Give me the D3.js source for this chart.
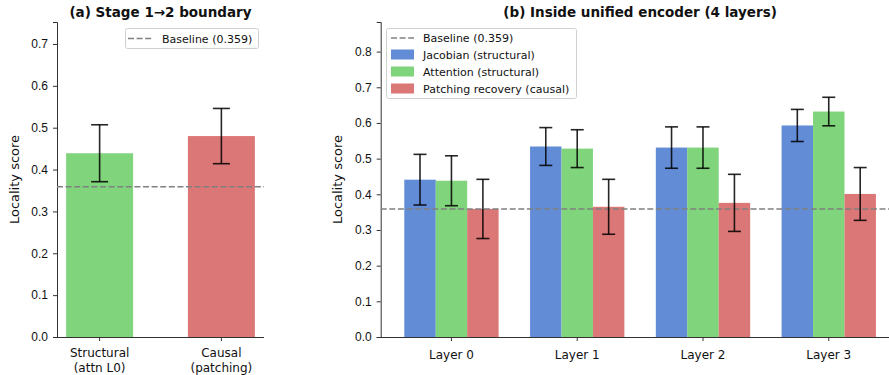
<!DOCTYPE html>
<html lang="en">
<head>
<meta charset="utf-8">
<script src="https://d3js.org/d3.v7.min.js"></script>
<style>
  body { margin: 0; background: #fff; }
  svg { font-family: "DejaVu Sans", sans-serif; }
</style>
</head>
<body>
<script>
// ---- data ----
var baseline = 0.359;

var leftCats = ["Structural\n(attn L0)", "Causal\n(patching)"];
var leftVals = [0.439, 0.480];
var leftErrs = [0.068, 0.066];

var layers = ["Layer 0", "Layer 1", "Layer 2", "Layer 3"];
var seriesNames = ["Jacobian (structural)", "Attention (structural)", "Patching recovery (causal)"];
var jacobianVals = [0.441, 0.534, 0.531, 0.593];
var jacobianErrs = [0.071, 0.053, 0.058, 0.045];
var attentionVals = [0.438, 0.528, 0.531, 0.632];
var attentionErrs = [0.070, 0.053, 0.058, 0.040];
var patchingVals = [0.359, 0.365, 0.376, 0.401];
var patchingErrs = [0.083, 0.077, 0.080, 0.074];

var yTicksA = [0, 0.1, 0.2, 0.3, 0.4, 0.5, 0.6, 0.7];
var yTicksB = [0, 0.1, 0.2, 0.3, 0.4, 0.5, 0.6, 0.7, 0.8];

var blue = "#4878d0", green = "#6acc64", red = "#d65f5f";

var svg = d3.select("body").append("svg")
    .attr("width", 889).attr("height", 375);

var bottom = 337;
var tickFont = 12;
var legFont = 11;

// draws y axis and y label
function frame(x, y, top, ticks, labelX) {
    var g = svg.append("g");
    g.append("g")
        .attr("transform", "translate(" + x.range()[0] + ",0)")
        .call(d3.axisLeft(y).tickValues(ticks).tickFormat(d3.format(".1f")).tickSizeOuter(0).tickSize(4).tickPadding(5))
        .call(function(a) {
            a.select(".domain").attr("stroke", "#333").attr("stroke-width", 1);
            a.selectAll(".tick line").attr("stroke", "#333");
            a.selectAll("text").attr("font-size", tickFont).attr("fill", "#111");
        });
    g.append("text")
        .attr("transform", "translate(" + labelX + "," + (top + bottom) / 2 + ") rotate(-90)")
        .attr("text-anchor", "middle")
        .attr("font-size", 13)
        .attr("fill", "#111")
        .text("Locality score");
    return g;
}

function errBar(g, cx, v, e, cap) {
    g.append("line").attr("x1", cx).attr("x2", cx)
        .attr("y1", v.y(v.val + e)).attr("y2", v.y(v.val - e))
        .attr("stroke", "#000").attr("stroke-opacity", 0.85).attr("stroke-width", 1.6);
    [v.val + e, v.val - e].forEach(function(t) {
        g.append("line").attr("x1", cx - cap).attr("x2", cx + cap)
            .attr("y1", v.y(t)).attr("y2", v.y(t))
            .attr("stroke", "#000").attr("stroke-opacity", 0.85).attr("stroke-width", 1.6);
    });
}

// ---------- panel (a) ----------
var xa = d3.scaleLinear().domain([-0.35, 1.35]).range([57, 264]);
var ya = d3.scaleLinear().domain([0, 0.7525]).range([bottom, 22]);
var ga = frame(xa, ya, 22, yTicksA, 19);
var barW = 0.55;
leftVals.forEach(function(v, i) {
    ga.append("rect")
        .attr("x", xa(i - barW / 2)).attr("width", xa(barW) - xa(0))
        .attr("y", ya(v)).attr("height", ya(0) - ya(v))
        .attr("fill", i == 0 ? green : red).attr("fill-opacity", 0.85);
});
ga.append("line").attr("x1", xa.range()[0]).attr("x2", xa.range()[1])
    .attr("y1", ya(baseline)).attr("y2", ya(baseline))
    .attr("stroke", "#808080").attr("stroke-width", 1.6).attr("stroke-dasharray", "6,2.6");
leftVals.forEach(function(v, i) {
    errBar(ga, xa(i), {val: v, y: ya}, leftErrs[i], 8.5);
});
// x axis
ga.append("line").attr("x1", xa.range()[0]).attr("x2", xa.range()[1])
    .attr("y1", bottom + 0.5).attr("y2", bottom + 0.5).attr("stroke", "#333");
leftCats.forEach(function(c, i) {
    ga.append("line").attr("x1", xa(i)).attr("x2", xa(i)).attr("y1", bottom).attr("y2", bottom + 4).attr("stroke", "#333");
    var t = ga.append("text").attr("text-anchor", "middle").attr("font-size", tickFont).attr("fill", "#111");
    c.split("\n").forEach(function(s, k) {
        t.append("tspan").attr("x", xa(i)).attr("y", bottom + 20 + k * 14.5).text(s);
    });
});
svg.append("text").attr("x", (57 + 264) / 2).attr("y", 17).attr("text-anchor", "middle")
    .attr("font-size", 13.5).attr("font-weight", "bold").attr("fill", "#111").text("(a) Stage 1\u21922 boundary");
// legend (a)
var la = ga.append("g");
la.append("rect").attr("x", 125.5).attr("y", 28.5).attr("width", 133).attr("height", 20).attr("rx", 2)
    .attr("fill", "#fff").attr("fill-opacity", 0.8).attr("stroke", "#d0d0d0");
la.append("line").attr("x1", 128).attr("x2", 153).attr("y1", 38.5).attr("y2", 38.5)
    .attr("stroke", "#808080").attr("stroke-width", 1.6).attr("stroke-dasharray", "6,2.6");
la.append("text").attr("x", 162).attr("y", 42.5).attr("font-size", legFont).attr("fill", "#111").text("Baseline (0.359)");

// ---------- panel (b) ----------
var xb = d3.scaleLinear().domain([-0.5625, 3.5625]).range([380.7, 899.5]);
var yb = d3.scaleLinear().domain([0, 0.883]).range([bottom, 22]);
var gb = frame(xb, yb, 22, yTicksB, 342);
var series = [
    {vals: jacobianVals, errs: jacobianErrs, color: blue},
    {vals: attentionVals, errs: attentionErrs, color: green},
    {vals: patchingVals, errs: patchingErrs, color: red}
];
var w = 0.25;
series.forEach(function(s, si) {
    s.vals.forEach(function(v, i) {
        var c = i + (si - 1) * w;
        gb.append("rect")
            .attr("x", xb(c - w / 2)).attr("width", xb(w) - xb(0))
            .attr("y", yb(v)).attr("height", yb(0) - yb(v))
            .attr("fill", s.color).attr("fill-opacity", 0.85);
    });
});
gb.append("line").attr("x1", xb.range()[0]).attr("x2", xb.range()[1])
    .attr("y1", yb(baseline)).attr("y2", yb(baseline))
    .attr("stroke", "#808080").attr("stroke-width", 1.6).attr("stroke-dasharray", "6,2.6");
series.forEach(function(s, si) {
    s.vals.forEach(function(v, i) {
        errBar(gb, xb(i + (si - 1) * w), {val: v, y: yb}, s.errs[i], 6.5);
    });
});
gb.append("line").attr("x1", xb.range()[0]).attr("x2", xb.range()[1])
    .attr("y1", bottom + 0.5).attr("y2", bottom + 0.5).attr("stroke", "#333");
layers.forEach(function(c, i) {
    gb.append("line").attr("x1", xb(i)).attr("x2", xb(i)).attr("y1", bottom).attr("y2", bottom + 4).attr("stroke", "#333");
    gb.append("text").attr("x", xb(i)).attr("y", bottom + 22).attr("text-anchor", "middle")
        .attr("font-size", tickFont).attr("fill", "#111").text(c);
});
svg.append("text").attr("x", (380.7 + 899.5) / 2).attr("y", 17).attr("text-anchor", "middle")
    .attr("font-size", 13.5).attr("font-weight", "bold").attr("fill", "#111").text("(b) Inside unified encoder (4 layers)");
// legend (b)
var lb = gb.append("g");
lb.append("rect").attr("x", 386.5).attr("y", 28.5).attr("width", 190).attr("height", 70).attr("rx", 2)
    .attr("fill", "#fff").attr("fill-opacity", 0.8).attr("stroke", "#d0d0d0");
lb.append("line").attr("x1", 391).attr("x2", 414).attr("y1", 38).attr("y2", 38)
    .attr("stroke", "#808080").attr("stroke-width", 1.6).attr("stroke-dasharray", "6,2.6");
lb.append("text").attr("x", 423).attr("y", 42).attr("font-size", legFont).attr("fill", "#111").text("Baseline (0.359)");
series.forEach(function(s, si) {
    var yy = 54.5 + si * 17;
    lb.append("rect").attr("x", 391).attr("y", yy - 5).attr("width", 23).attr("height", 10)
        .attr("fill", s.color).attr("fill-opacity", 0.85);
    lb.append("text").attr("x", 423).attr("y", yy + 4).attr("font-size", legFont).attr("fill", "#111").text(seriesNames[si]);
});
</script>
</body>
</html>
